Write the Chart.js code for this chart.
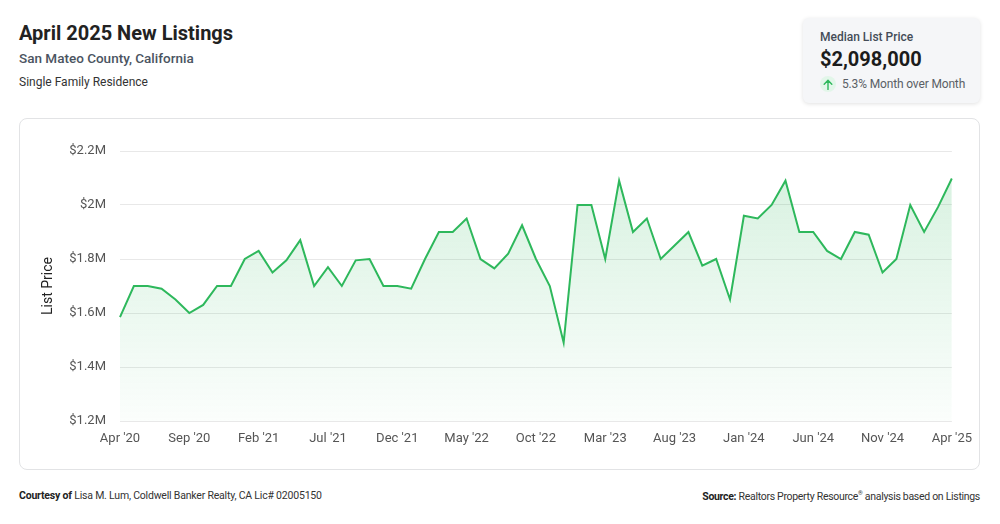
<!DOCTYPE html>
<html>
<head>
<meta charset="utf-8">
<script src="https://cdn.jsdelivr.net/npm/chart.js@4.4.1/dist/chart.umd.min.js"></script>
<style>
  html, body { margin: 0; padding: 0; background: #fff; }
  body { width: 1000px; height: 524px; position: relative; font-family: Roboto, "Noto Sans", sans-serif; overflow: hidden; }
  .title { position: absolute; left: 19px; top: 21px; font-size: 20px; font-weight: 700; color: #222; }
  .sub { position: absolute; left: 19px; top: 50px; font-size: 13.5px; font-weight: 500; color: #4b5461; }
  .sub2 { position: absolute; left: 19px; top: 75px; font-size: 12px; color: #333; }
  .kpi { position: absolute; left: 803px; top: 18px; width: 177px; height: 85px; background: #f5f6f8; border-radius: 6px; box-shadow: 0 1px 4px rgba(0,0,0,0.12); }
  .kpi .lbl { position: absolute; left: 17px; top: 12px; font-size: 12px; font-weight: 500; color: #444c57; }
  .kpi .val { position: absolute; left: 17px; top: 29px; font-size: 20px; font-weight: 700; color: #1c1c1c; }
  .kpi .chg { position: absolute; left: 17px; top: 58px; font-size: 12px; letter-spacing: -0.15px; color: #5a5f66; display: flex; align-items: center; }
  .kpi .arr { width: 16px; height: 16px; border-radius: 50%; background: #e2f6e9; margin-right: 6px; display: flex; align-items: center; justify-content: center; }
  .card { position: absolute; left: 19px; top: 118px; width: 959px; height: 350px; border: 1px solid #e2e3e5; border-radius: 8px; }
  .card canvas { position: absolute; left: 0; top: 0; }
  .foot { position: absolute; top: 489px; font-size: 10.5px; color: #333; letter-spacing: -0.2px; }
  .foot b { font-weight: 700; color: #222; }
</style>
</head>
<body>
<div class="title">April 2025 New Listings</div>
<div class="sub">San Mateo County, California</div>
<div class="sub2">Single Family Residence</div>

<div class="kpi">
  <div class="lbl">Median List Price</div>
  <div class="val">$2,098,000</div>
  <div class="chg"><span class="arr"><svg width="10" height="11" viewBox="0 0 10 11"><path d="M5 10.5V1.5M1.2 5.2L5 1.3L8.8 5.2" fill="none" stroke="#2eb85c" stroke-width="1.4" stroke-linecap="round" stroke-linejoin="round"/></svg></span>5.3% Month over Month</div>
</div>

<div class="card"><canvas id="c" width="962" height="350"></canvas></div>

<div class="foot" style="left:19px;"><b>Courtesy of</b> Lisa M. Lum, Coldwell Banker Realty, CA Lic# 02005150</div>
<div class="foot" style="right:20px; letter-spacing:-0.3px;"><b>Source:</b> Realtors Property Resource<sup style="font-size:6px">&reg;</sup> analysis based on Listings</div>

<script>
const months = [
  "Apr '20","May '20","Jun '20","Jul '20","Aug '20","Sep '20","Oct '20","Nov '20","Dec '20",
  "Jan '21","Feb '21","Mar '21","Apr '21","May '21","Jun '21","Jul '21","Aug '21","Sep '21","Oct '21","Nov '21","Dec '21",
  "Jan '22","Feb '22","Mar '22","Apr '22","May '22","Jun '22","Jul '22","Aug '22","Sep '22","Oct '22","Nov '22","Dec '22",
  "Jan '23","Feb '23","Mar '23","Apr '23","May '23","Jun '23","Jul '23","Aug '23","Sep '23","Oct '23","Nov '23","Dec '23",
  "Jan '24","Feb '24","Mar '24","Apr '24","May '24","Jun '24","Jul '24","Aug '24","Sep '24","Oct '24","Nov '24","Dec '24",
  "Jan '25","Feb '25","Mar '25","Apr '25"
];

const listPrice = [
  1585000, 1700000, 1700000, 1690000, 1650000, 1600000, 1630000, 1700000, 1700000,
  1800000, 1830000, 1750000, 1795000, 1870000, 1700000, 1770000, 1700000, 1795000, 1800000, 1700000, 1700000,
  1690000, 1800000, 1900000, 1900000, 1950000, 1800000, 1765000, 1820000, 1925000, 1800000, 1700000, 1490000,
  2000000, 2000000, 1800000, 2090000, 1900000, 1950000, 1800000, 1850000, 1900000, 1775000, 1800000, 1650000,
  1960000, 1950000, 2000000, 2090000, 1900000, 1900000, 1830000, 1800000, 1900000, 1890000, 1750000, 1800000,
  2000000, 1900000, 1992000, 2098000
];

const yMin = 1200000, yMax = 2200000, yStep = 200000;

const ctx = document.getElementById("c").getContext("2d");
const grad = ctx.createLinearGradient(0, 32, 0, 302);
grad.addColorStop(0, "rgba(46, 184, 92, 0.20)");
grad.addColorStop(1, "rgba(46, 184, 92, 0.02)");

new Chart(ctx, {
  type: "line",
  data: {
    labels: months,
    datasets: [{
      data: listPrice,
      borderColor: "#2eb85c",
      borderWidth: 2,
      backgroundColor: grad,
      fill: "start",
      tension: 0,
      pointRadius: 0,
    }],
  },
  options: {
    responsive: false,
    animation: false,
    layout: { padding: { left: 16, right: 25, top: 32, bottom: 18 } },
    plugins: { legend: { display: false }, tooltip: { enabled: false } },
    scales: {
      x: {
        grid: { display: false, drawTicks: false },
        border: { display: false },
        afterFit: (s) => { s.height = 30; },
        ticks: {
          autoSkip: false,
          maxRotation: 0,
          padding: 10,
          color: "#555",
          font: { family: "Roboto", size: 13 },
          callback: function (v, i) { return i % 5 === 0 ? months[i] : ""; },
        },
      },
      y: {
        min: yMin,
        max: yMax,
        afterFit: (s) => { s.width = 84; },
        grid: { color: "#e8e8e8", drawTicks: false },
        border: { display: false },
        title: { display: true, text: "List Price", color: "#222", font: { family: "Roboto", size: 14 }, padding: { top: 4, bottom: 4 } },
        ticks: {
          stepSize: yStep,
          padding: 14,
          color: "#555",
          font: { family: "Roboto", size: 13 },
          callback: (v) => "$" + (v / 1000000) + "M",
        },
      },
    },
  },
});
</script>
</body>
</html>
